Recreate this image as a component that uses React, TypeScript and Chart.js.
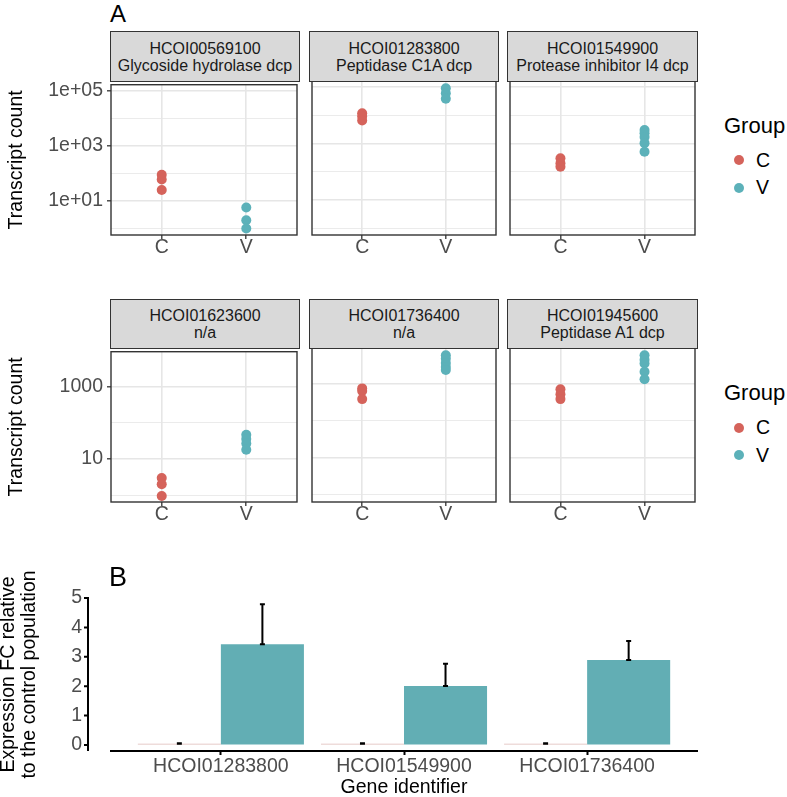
import React, { useEffect, useRef } from 'react';
import { Chart, registerables } from 'chart.js';
Chart.register(...registerables);

const FONT = '"Liberation Sans", Arial, Helvetica, sans-serif';
Chart.defaults.font.family = FONT;

// ---------- data ----------
const groups = ['C', 'V'];

// Panel A, top row
const geneIds1 = ['HCOI00569100', 'HCOI01283800', 'HCOI01549900'];
const geneDesc1 = ['Glycoside hydrolase dcp', 'Peptidase C1A dcp', 'Protease inhibitor I4 dcp'];
const countsC1 = [[88, 60, 25], [11700, 9000, 6500], [300, 200, 150]];
const countsV1 = [[5.8, 2.0, 1.0], [90000, 60000, 38000], [3000, 2300, 1700, 1030, 510]];
const row1Ticks = [1, 10, 100, 1000, 10000, 100000];
const row1Labels = ['', '1e+01', '', '1e+03', '', '1e+05'];

// Panel A, bottom row
const geneIds2 = ['HCOI01623600', 'HCOI01736400', 'HCOI01945600'];
const geneDesc2 = ['n/a', 'n/a', 'Peptidase A1 dcp'];
const countsC2 = [[3.0, 2.0, 0.95], [760, 650, 390], [720, 530, 390]];
const countsV2 = [[47, 36, 27, 18], [6000, 4800, 3700, 2900, 2400], [6000, 4500, 3600, 2150, 1340]];
const row2Ticks = [1, 10, 100, 1000];
const row2Labels = ['', '10', '', '1000'];

// Panel B
const fcGenes = ['HCOI01283800', 'HCOI01549900', 'HCOI01736400'];
const fcMeanC = [0.04, 0.04, 0.04];
const fcErrC = [0.02, 0.02, 0.02];
const fcMeanV = [3.43, 2.01, 2.89];
const fcErrV = [1.36, 0.75, 0.65];
const fcTicks = [0, 1, 2, 3, 4, 5];

// ---------- styles ----------
const RED = '#D5635B';
const TEAL = '#5CB1B9';
const BAR_TEAL = '#62AEB4';
const BAR_C = '#DDB9B6';
const GRID = '#E6E6E6';
const TICK_TXT = '#4D4D4D';
const TICK_SIZE = 19.5;
const PT_R = 5;

const panelBorder = {
  id: 'panelBorder',
  afterDraw(chart: any) {
    const { ctx, chartArea: a } = chart;
    ctx.save();
    ctx.strokeStyle = '#333333';
    ctx.lineWidth = 1.4;
    ctx.strokeRect(a.left, a.top, a.right - a.left, a.bottom - a.top);
    ctx.restore();
  },
};

const PLOT_LEFT = [111, 310, 508];
const PLOT_W = [188, 188, 189];
const PLOT_H = 154;

function Facet(props: any) {
  const { col, plotTop, cVals, vVals, ticks, labels, yMin, yMax } = props;
  const ref = useRef<HTMLCanvasElement>(null);
  const leftM = col === 0 ? 111 : 3;
  const W = leftM + PLOT_W[col] + 3;
  const TOP = 12;
  const BOT = 34;
  const H = TOP + PLOT_H + BOT;
  const canvasLeft = PLOT_LEFT[col] - leftM;
  useEffect(() => {
    const chart = new Chart(ref.current as HTMLCanvasElement, {
      type: 'scatter',
      data: {
        datasets: [
          {
            label: 'C',
            data: cVals.map((v: number) => ({ x: 1, y: v })),
            backgroundColor: RED,
            borderColor: RED,
            pointBackgroundColor: RED,
            pointBorderWidth: 0,
            pointRadius: PT_R,
            clip: false,
          },
          {
            label: 'V',
            data: vVals.map((v: number) => ({ x: 2, y: v })),
            backgroundColor: TEAL,
            borderColor: TEAL,
            pointBackgroundColor: TEAL,
            pointBorderWidth: 0,
            pointRadius: PT_R,
            clip: false,
          },
        ],
      },
      options: {
        animation: false,
        responsive: false,
        events: [],
        layout: { padding: { top: TOP, right: 3, left: 0, bottom: 0 } },
        plugins: { legend: { display: false }, tooltip: { enabled: false } },
        scales: {
          x: {
            type: 'linear',
            min: 0.4,
            max: 2.6,
            afterBuildTicks: (s: any) => {
              s.ticks = [{ value: 1 }, { value: 2 }];
            },
            afterFit: (s: any) => {
              s.height = BOT;
            },
            ticks: {
              callback: (v: any) => groups[Math.round(v) - 1] ?? '',
              color: TICK_TXT,
              font: { family: FONT, size: TICK_SIZE, lineHeight: 1 },
              padding: -1.5,
              autoSkip: false,
              maxRotation: 0,
            },
            grid: {
              color: GRID,
              lineWidth: 1.6,
              drawTicks: true,
              tickLength: 4,
              tickColor: '#333333',
              tickWidth: 1.3,
            },
            border: { display: false },
          },
          y: {
            type: 'logarithmic',
            min: yMin,
            max: yMax,
            bounds: 'data',
            afterBuildTicks: (s: any) => {
              s.ticks = ticks.map((v: number) => ({ value: v }));
            },
            afterFit: (s: any) => {
              s.width = leftM;
            },
            ticks: {
              display: col === 0,
              callback: (_v: any, i: number) => labels[i],
              color: TICK_TXT,
              font: { family: FONT, size: TICK_SIZE, lineHeight: 1.2 },
              padding: 4,
              autoSkip: false,
            },
            grid: {
              color: GRID,
              lineWidth: (c: any) => (labels[c.index] ? 1.6 : 0.8),
              drawTicks: col === 0,
              tickLength: 4,
              tickColor: (c: any) => (labels[c.index] ? '#333333' : 'rgba(0,0,0,0)'),
              tickWidth: 1.3,
            },
            border: { display: false },
            title: {
              display: col === 0,
              text: 'Transcript count',
              color: '#000000',
              font: { family: FONT, size: TICK_SIZE, lineHeight: 1.2 },
              padding: { top: 5, bottom: 0 },
            },
          },
        },
      } as any,
      plugins: [panelBorder],
    });
    return () => chart.destroy();
  }, []);
  return (
    <canvas
      ref={ref}
      width={W}
      height={H}
      style={{ position: 'absolute', left: canvasLeft, top: plotTop - TOP, width: W, height: H }}
    />
  );
}

function Strip(props: any) {
  const { col, top, height, id, desc } = props;
  return (
    <div
      style={{
        position: 'absolute',
        left: PLOT_LEFT[col] - 1,
        top,
        width: PLOT_W[col] + 2,
        height: height + 1,
        boxSizing: 'border-box',
        border: '1.5px solid #333333',
        background: '#D9D9D9',
        display: 'flex',
        flexDirection: 'column',
        justifyContent: 'center',
        alignItems: 'center',
        fontFamily: FONT,
        fontSize: 16,
        lineHeight: '17px',
        color: '#1A1A1A',
        whiteSpace: 'nowrap',
      }}
    >
      <div>{id}</div>
      <div>{desc}</div>
    </div>
  );
}

function Legend(props: any) {
  const { groupTop, cY, vY } = props;
  const txt = (t: string, cy: number) => (
    <div
      style={{
        position: 'absolute',
        left: 756,
        top: cy - 9.5,
        fontSize: TICK_SIZE,
        lineHeight: 1,
        fontFamily: FONT,
        color: '#000',
      }}
    >
      {t}
    </div>
  );
  const dot = (color: string, cy: number) => (
    <div
      style={{
        position: 'absolute',
        left: 739 - PT_R,
        top: cy - PT_R,
        width: PT_R * 2,
        height: PT_R * 2,
        borderRadius: '50%',
        background: color,
      }}
    />
  );
  return (
    <>
      <div
        style={{
          position: 'absolute',
          left: 724,
          top: groupTop - 0.13 * 22,
          fontSize: 22,
          lineHeight: 1,
          fontFamily: FONT,
          color: '#000',
          whiteSpace: 'nowrap',
        }}
      >
        Group
      </div>
      {dot(RED, cY)}
      {txt(groups[0], cY)}
      {dot(TEAL, vY)}
      {txt(groups[1], vY)}
    </>
  );
}

const errorBars = {
  id: 'errorBars',
  afterDatasetsDraw(chart: any) {
    const { ctx } = chart;
    const ys = chart.scales.y;
    const means = [fcMeanC, fcMeanV];
    const errs = [fcErrC, fcErrV];
    chart.data.datasets.forEach((_ds: any, di: number) => {
      const meta = chart.getDatasetMeta(di);
      meta.data.forEach((bar: any, i: number) => {
        const m = means[di][i];
        const e = errs[di][i];
        const x = bar.x;
        const y0 = ys.getPixelForValue(m);
        const y1 = ys.getPixelForValue(m + e);
        ctx.save();
        ctx.strokeStyle = '#000000';
        ctx.lineWidth = 2;
        ctx.beginPath();
        ctx.moveTo(x, y0);
        ctx.lineTo(x, y1);
        ctx.moveTo(x - 2.5, y0);
        ctx.lineTo(x + 2.5, y0);
        ctx.moveTo(x - 2.5, y1);
        ctx.lineTo(x + 2.5, y1);
        ctx.stroke();
        ctx.restore();
      });
    });
  },
};

const offsetYAxis = {
  id: 'offsetYAxis',
  afterDraw(chart: any) {
    const s = chart.scales.y;
    const { ctx, chartArea: a } = chart;
    const x = a.left - 23;
    ctx.save();
    ctx.strokeStyle = '#000000';
    ctx.lineWidth = 2;
    ctx.beginPath();
    ctx.moveTo(x, a.top - 1);
    ctx.lineTo(x, a.bottom);
    s.ticks.forEach((t: any) => {
      const py = s.getPixelForValue(t.value);
      ctx.moveTo(x - 4, py);
      ctx.lineTo(x, py);
    });
    ctx.stroke();
    ctx.restore();
  },
};

function FoldChange() {
  const ref = useRef<HTMLCanvasElement>(null);
  const TOP = 560;
  const W = 787;
  const H = 237;
  useEffect(() => {
    const chart = new Chart(ref.current as HTMLCanvasElement, {
      type: 'bar',
      data: {
        datasets: [
          {
            label: 'C',
            data: fcGenes.map((_g, i) => ({ x: i + 1, y: fcMeanC[i] })),
            backgroundColor: BAR_C,
            categoryPercentage: 0.907,
            barPercentage: 1,
          },
          {
            label: 'V',
            data: fcGenes.map((_g, i) => ({ x: i + 1, y: fcMeanV[i] })),
            backgroundColor: BAR_TEAL,
            categoryPercentage: 0.907,
            barPercentage: 1,
          },
        ],
      },
      options: {
        animation: false,
        responsive: false,
        events: [],
        layout: { padding: { top: 598 - TOP, right: W - 697, left: 0, bottom: 0 } },
        plugins: { legend: { display: false }, tooltip: { enabled: false } },
        scales: {
          x: {
            type: 'linear',
            min: 0.4,
            max: 3.6,
            offset: false,
            afterBuildTicks: (s: any) => {
              s.ticks = fcGenes.map((_g, i) => ({ value: i + 1 }));
            },
            afterFit: (s: any) => {
              s.height = 46;
            },
            ticks: {
              callback: (v: any) => fcGenes[Math.round(v) - 1] ?? '',
              color: TICK_TXT,
              font: { family: FONT, size: TICK_SIZE, lineHeight: 1 },
              padding: 1.5,
              autoSkip: false,
              maxRotation: 0,
            },
            grid: {
              display: true,
              offset: false,
              drawOnChartArea: false,
              drawTicks: true,
              tickLength: 4,
              tickColor: '#000000',
              tickWidth: 2,
            },
            border: { display: true, color: '#000000', width: 2 },
            title: {
              display: true,
              text: 'Gene identifier',
              color: '#000000',
              font: { family: FONT, size: TICK_SIZE, lineHeight: 1 },
              padding: { top: 0, bottom: 0 },
            },
          },
          y: {
            type: 'linear',
            min: -0.204,
            max: 5,
            afterBuildTicks: (s: any) => {
              s.ticks = fcTicks.map((v) => ({ value: v }));
            },
            afterFit: (s: any) => {
              s.width = 111;
            },
            ticks: {
              color: TICK_TXT,
              font: { family: FONT, size: TICK_SIZE, lineHeight: 1.2 },
              padding: 4,
              autoSkip: false,
            },
            grid: {
              display: true,
              drawOnChartArea: false,
              drawTicks: true,
              tickLength: 25,
              tickColor: 'rgba(0,0,0,0)',
            },
            border: { display: false },
            title: {
              display: true,
              text: ['Expression FC relative', 'to the control population'],
              color: '#000000',
              font: { family: FONT, size: TICK_SIZE, lineHeight: 1.05 },
              padding: { top: -1.5, bottom: 0 },
            },
          },
        },
      } as any,
      plugins: [errorBars, offsetYAxis],
    });
    return () => chart.destroy();
  }, []);
  return (
    <canvas
      ref={ref}
      width={W}
      height={H}
      style={{ position: 'absolute', left: 0, top: TOP, width: W, height: H }}
    />
  );
}

export default function App() {
  useEffect(() => {
    document.body.style.margin = '0';
    document.body.style.overflow = 'hidden';
  }, []);
  const rows = [
    {
      plotTop: 81,
      stripTop: 31,
      stripH: 50,
      ids: geneIds1,
      desc: geneDesc1,
      cs: countsC1,
      vs: countsV1,
      ticks: row1Ticks,
      labels: row1Labels,
      yMin: Math.pow(10, -0.235),
      yMax: Math.pow(10, 5.21),
      legend: { groupTop: 118, cY: 160, vY: 187.7 },
    },
    {
      plotTop: 348,
      stripTop: 299,
      stripH: 49,
      ids: geneIds2,
      desc: geneDesc2,
      cs: countsC2,
      vs: countsV2,
      ticks: row2Ticks,
      labels: row2Labels,
      yMin: Math.pow(10, -0.19),
      yMax: Math.pow(10, 3.973),
      legend: { groupTop: 385, cY: 427.7, vY: 455 },
    },
  ];
  return (
    <div
      style={{
        position: 'fixed',
        left: 0,
        top: 0,
        width: 787,
        height: 797,
        background: '#FFFFFF',
        overflow: 'hidden',
        fontFamily: FONT,
      }}
    >
      {rows.map((r, ri) => (
        <React.Fragment key={ri}>
          {[0, 1, 2].map((c) => (
            <Facet
              key={'f' + c}
              col={c}
              plotTop={r.plotTop}
              cVals={r.cs[c]}
              vVals={r.vs[c]}
              ticks={r.ticks}
              labels={r.labels}
              yMin={r.yMin}
              yMax={r.yMax}
            />
          ))}
          {[0, 1, 2].map((c) => (
            <Strip key={'s' + c} col={c} top={r.stripTop} height={r.stripH} id={r.ids[c]} desc={r.desc[c]} />
          ))}
          <Legend {...r.legend} />
        </React.Fragment>
      ))}
      <FoldChange />
      <div style={{ position: 'absolute', left: 110, top: 1.5, fontSize: 24, lineHeight: 1, color: '#000' }}>A</div>
      <div style={{ position: 'absolute', left: 109, top: 564, fontSize: 27, lineHeight: 1, color: '#000' }}>B</div>
    </div>
  );
}
